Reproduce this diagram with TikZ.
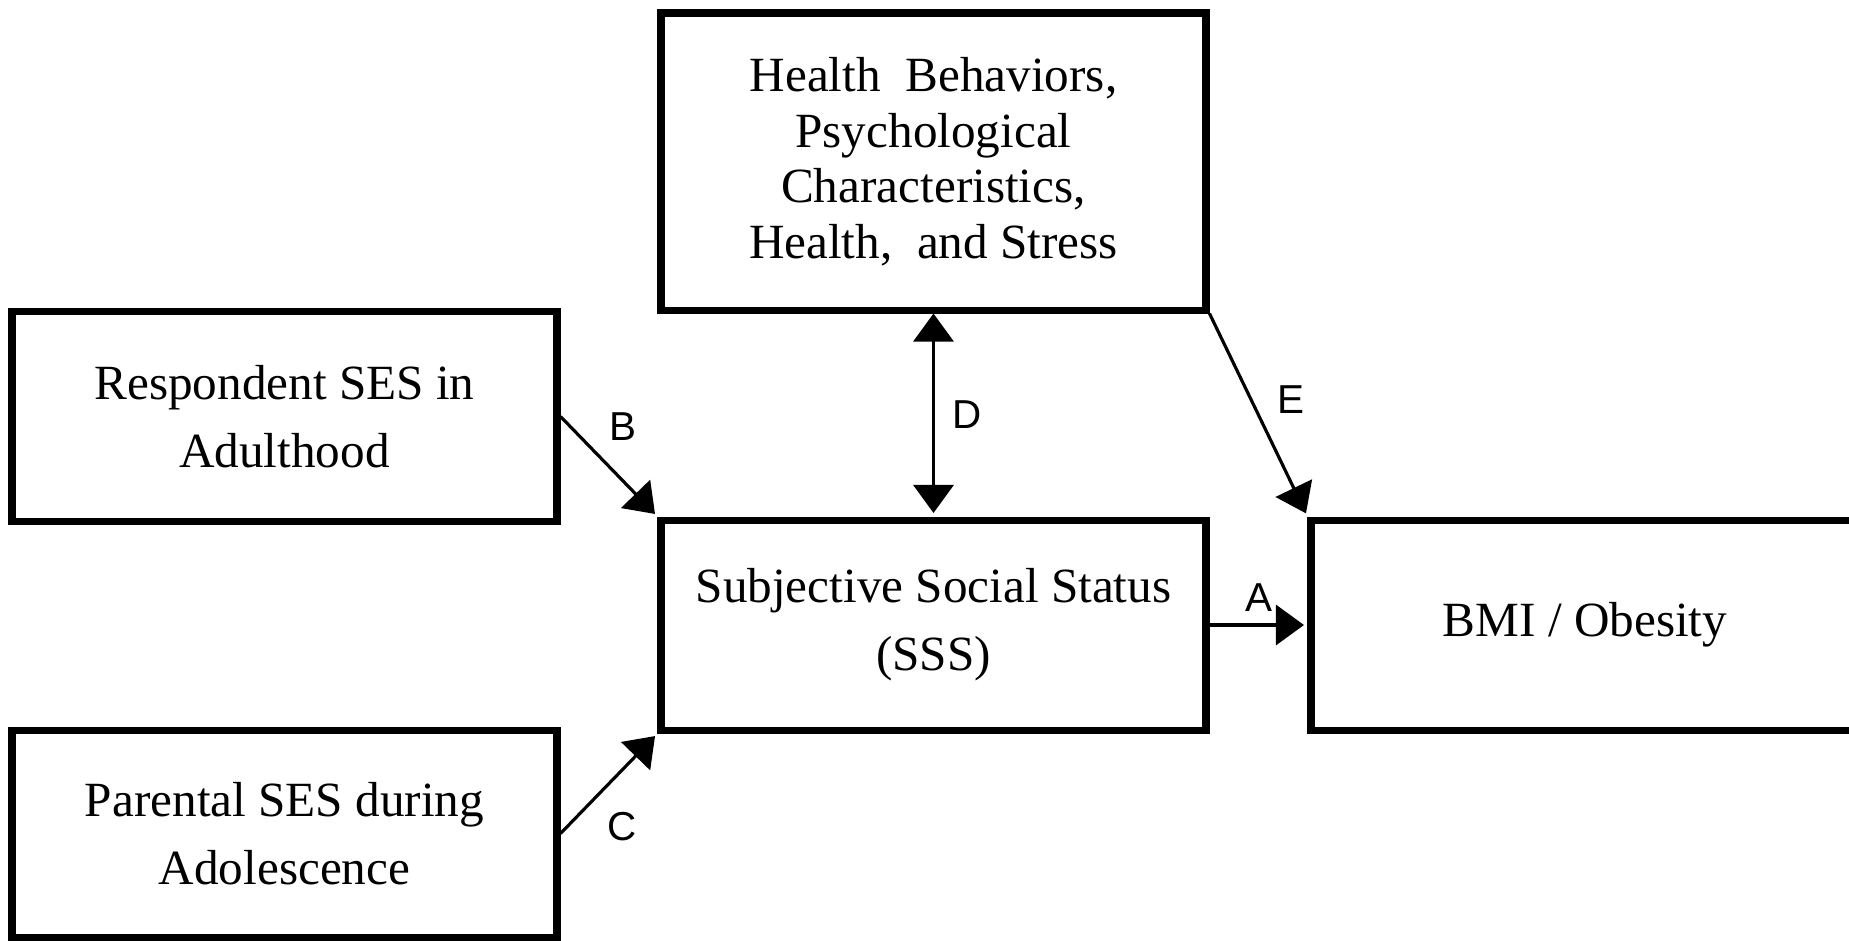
\documentclass[tikz,border=0pt]{standalone}
\usepackage{fontspec}
\setmainfont{Liberation Serif}
\newfontfamily\labelfont{Liberation Sans}
\usepackage{tikz}
\usetikzlibrary{arrows.meta}
\usetikzlibrary{positioning}
\tikzset{
  box/.style={draw, line width=2pt, minimum width=5.45cm, minimum height=2.1cm,
    inner sep=0pt, align=center, font=\fontsize{14}{19.3}\selectfont},
  lbl/.style={font=\labelfont\fontsize{11.5}{13}\selectfont}
}

\begin{document}
\begin{tikzpicture}[->,>={Triangle[length=2.8mm,width=4mm]},
      shorten >=1pt,
      node distance=6.5cm,
      auto,
      on grid,
      line width=0.9pt]

    \useasboundingbox (0,0) rectangle (18.49,-9.40);

    \node[box]
      (SSS) at (9.335,-6.25) {Subjective Social Status\\(SSS)};
    \node[box, minimum width=5.48cm]
      (BMI) [right=6.515cm of SSS] {BMI / Obesity};
    \node[box, minimum height=2.97cm, font=\fontsize{14}{15.8}\selectfont]
      (Health) [above=4.635cm of SSS]
      {Health\enspace Behaviors,\\Psychological\\Characteristics,\\Health,\enspace and Stress};
    \node[box]
      (Respondent) [above left=2.085cm and 6.49cm of SSS] {Respondent SES in\\Adulthood};
    \node[box, minimum height=2.07cm]
      (Parental) [below left=2.085cm and 6.49cm of SSS] {Parental SES during\\Adolescence};

    \path
      (SSS) edge node[lbl] {A} (BMI)
      (Respondent.east) edge node[lbl, pos=0.37] {B} (SSS.north west)
      (Parental.east) edge node[lbl, pos=0.35, swap] {C} (SSS.south west)
      (Health) edge[<->] node[lbl, xshift=0.6mm] {D} (SSS)
      (Health.south east) edge node[lbl, pos=0.56] {E} (BMI.north west);

  \end{tikzpicture}
\end{document}
